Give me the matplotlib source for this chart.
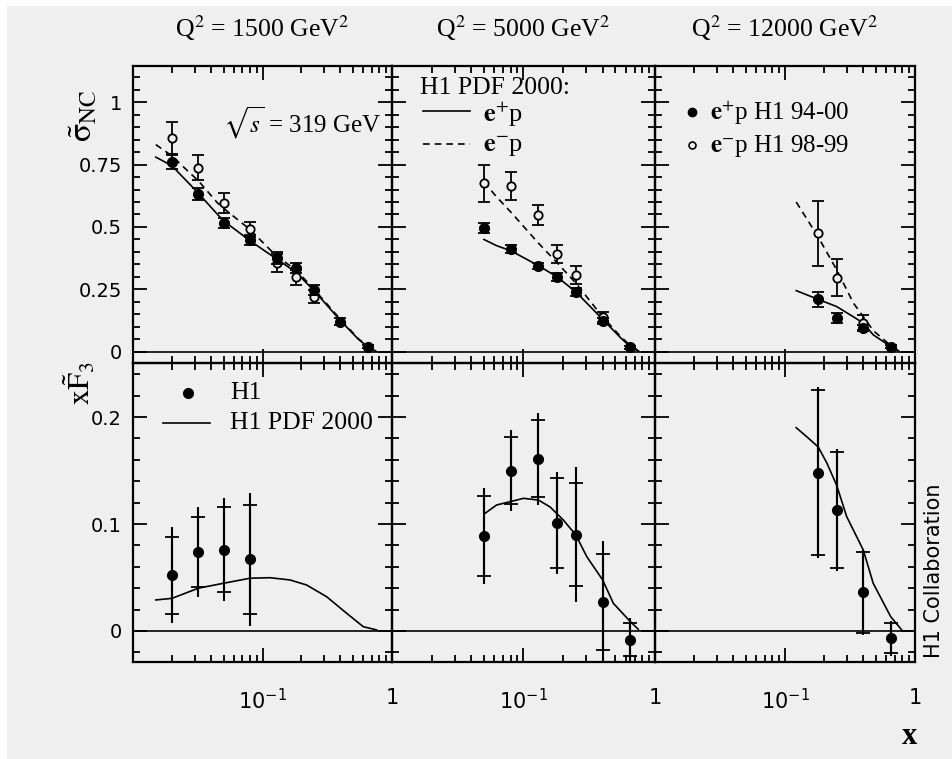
import matplotlib
matplotlib.use('Agg')
import matplotlib.pyplot as plt
from matplotlib.ticker import FixedLocator, FixedFormatter, LogLocator, MultipleLocator, NullFormatter
from matplotlib.patches import Rectangle

# ---- data ----
q2_values = ['1500', '5000', '12000']

# reduced NC cross section, e+p (filled)
ep_x = [[0.02, 0.032, 0.05, 0.08, 0.13, 0.18, 0.25, 0.40, 0.65],
        [0.05, 0.08, 0.13, 0.18, 0.25, 0.40, 0.65],
        [0.18, 0.25, 0.40, 0.65]]
ep_sig = [[0.761, 0.632, 0.517, 0.448, 0.375, 0.335, 0.248, 0.121, 0.021],
          [0.497, 0.411, 0.344, 0.299, 0.239, 0.124, 0.019],
          [0.211, 0.135, 0.095, 0.021]]
ep_err = [[0.03, 0.025, 0.02, 0.02, 0.025, 0.02, 0.02, 0.015, 0.006],
          [0.02, 0.015, 0.012, 0.015, 0.015, 0.012, 0.006],
          [0.03, 0.02, 0.012, 0.006]]

# reduced NC cross section, e-p (open)
em_x = [[0.02, 0.032, 0.05, 0.08, 0.13, 0.18, 0.25],
        [0.05, 0.08, 0.13, 0.18, 0.25, 0.40],
        [0.18, 0.25, 0.40]]
em_sig = [[0.855, 0.737, 0.595, 0.491, 0.355, 0.299, 0.221],
          [0.675, 0.665, 0.548, 0.391, 0.308, 0.141],
          [0.475, 0.297, 0.117]]
em_err = [[0.065, 0.05, 0.04, 0.03, 0.035, 0.03, 0.025],
          [0.075, 0.055, 0.04, 0.035, 0.035, 0.02],
          [0.13, 0.073, 0.03]]

# H1 PDF 2000 curves for the cross sections
fit_top_x = [[0.015, 0.02, 0.027, 0.032, 0.045, 0.05, 0.08, 0.13, 0.18, 0.25, 0.40, 0.55, 0.65, 0.75],
             [0.05, 0.0625, 0.08, 0.13, 0.18, 0.25, 0.40, 0.55, 0.65, 0.75],
             [0.122, 0.18, 0.25, 0.336, 0.40, 0.477, 0.65, 0.75]]
fit_ep = [[0.78, 0.745, 0.675, 0.635, 0.55, 0.525, 0.445, 0.37, 0.32, 0.245, 0.125, 0.05, 0.02, 0.003],
          [0.45, 0.425, 0.405, 0.345, 0.30, 0.24, 0.13, 0.055, 0.02, 0.003],
          [0.245, 0.21, 0.181, 0.14, 0.115, 0.068, 0.021, 0.003]]
fit_em = [[0.83, 0.785, 0.72, 0.685, 0.596, 0.575, 0.49, 0.38, 0.33, 0.25, 0.13, 0.052, 0.022, 0.004],
          [0.681, 0.62, 0.56, 0.435, 0.357, 0.275, 0.14, 0.06, 0.025, 0.004],
          [0.60, 0.46, 0.328, 0.195, 0.141, 0.085, 0.025, 0.004]]

# xF3 structure function
xf3_x = [[0.02, 0.032, 0.05, 0.08],
         [0.05, 0.08, 0.13, 0.18, 0.25, 0.40, 0.65],
         [0.18, 0.25, 0.40, 0.65]]
xf3 = [[0.052, 0.074, 0.076, 0.067],
       [0.089, 0.150, 0.161, 0.101, 0.090, 0.027, -0.008],
       [0.148, 0.113, 0.036, -0.007]]
xf3_stat = [[0.036, 0.033, 0.040, 0.051],
            [0.0375, 0.031, 0.036, 0.042, 0.048, 0.045, 0.0155],
            [0.077, 0.054, 0.038, 0.014]]
xf3_tot = [[0.045, 0.042, 0.048, 0.062],
           [0.045, 0.038, 0.043, 0.048, 0.063, 0.057, 0.02],
           [0.08, 0.057, 0.040, 0.016]]

fit_bot_x = [[0.015, 0.02, 0.032, 0.05, 0.08, 0.114, 0.163, 0.219, 0.313, 0.447, 0.60, 0.76],
             [0.051, 0.0625, 0.08, 0.10, 0.13, 0.159, 0.201, 0.25, 0.303, 0.40, 0.482, 0.65, 0.746],
             [0.122, 0.147, 0.18, 0.21, 0.25, 0.298, 0.40, 0.477, 0.65, 0.79]]
fit_xf3 = [[0.029, 0.0305, 0.040, 0.0446, 0.0493, 0.0498, 0.0477, 0.043, 0.032, 0.0165, 0.004, 0.001],
           [0.110, 0.1178, 0.121, 0.124, 0.1224, 0.116, 0.1037, 0.0897, 0.0694, 0.0477, 0.0259, 0.0087, 0.0016],
           [0.190, 0.1816, 0.172, 0.157, 0.136, 0.107, 0.0757, 0.0446, 0.0134, 0.001]]

# ---- layout ----
W, H = 953, 759
plt.rcParams['font.family'] = 'Liberation Serif'
plt.rcParams['mathtext.fontset'] = 'stix'

fig = plt.figure(figsize=(W / 100, H / 100), dpi=100)
fig.patch.set_facecolor('white')
fig.add_artist(Rectangle((7 / W, 0), 1 - 7 / W, 1 - 6 / H, transform=fig.transFigure,
                         facecolor='#efefef', edgecolor='none', zorder=-10))


def fx(x):
    return x / W


def fy(y):
    return 1 - y / H


col_edges = [133, 392, 655, 915]
row_edges = [66, 363, 662]

axes = [[None] * 3 for _ in range(2)]
for r in range(2):
    for c in range(3):
        l, rr = col_edges[c], col_edges[c + 1]
        t, b = row_edges[r], row_edges[r + 1]
        ax = fig.add_axes([fx(l), fy(b), (rr - l) / W, (b - t) / H])
        ax.set_facecolor('none')
        ax.set_xscale('log')
        ax.set_xlim(0.01, 1)
        ax.xaxis.set_major_locator(FixedLocator([0.01, 0.1, 1]))
        ax.xaxis.set_minor_locator(LogLocator(base=10, subs=range(2, 10)))
        ax.xaxis.set_minor_formatter(NullFormatter())
        if r == 1:
            ax.xaxis.set_major_formatter(FixedFormatter(['', r'$\mathdefault{10^{-1}}$', '1']))
        else:
            ax.xaxis.set_major_formatter(NullFormatter())
        if r == 0:
            ax.set_ylim(-0.045, 1.145)
            ax.yaxis.set_major_locator(FixedLocator([0, 0.25, 0.5, 0.75, 1]))
            ax.yaxis.set_minor_locator(MultipleLocator(0.05))
            labels = ['0', '0.25', '0.5', '0.75', '1']
        else:
            ax.set_ylim(-0.029, 0.2505)
            ax.yaxis.set_major_locator(FixedLocator([0, 0.1, 0.2]))
            ax.yaxis.set_minor_locator(MultipleLocator(0.02))
            labels = ['0', '0.1', '0.2']
        if c == 0:
            ax.yaxis.set_major_formatter(FixedFormatter(labels))
        else:
            ax.yaxis.set_major_formatter(NullFormatter())
        ax.tick_params(which='both', direction='in', top=True, right=True, width=1.3, colors='black')
        ax.tick_params(which='major', length=10)
        ax.tick_params(which='minor', length=5)
        ax.tick_params(axis='x', which='major', pad=19, labelsize=15)
        ax.tick_params(axis='y', which='major', pad=8, labelsize=14)
        for lab in ax.get_xticklabels() + ax.get_yticklabels():
            lab.set_fontfamily('DejaVu Sans')
        for sp in ax.spines.values():
            sp.set_linewidth(1.6)
        ax.axhline(0, color='black', lw=1.2, zorder=1)
        axes[r][c] = ax

# ---- top row: reduced cross sections ----
for c in range(3):
    ax = axes[0][c]
    ax.plot(fit_top_x[c], fit_ep[c], color='black', lw=1.2)
    ax.plot(fit_top_x[c], fit_em[c], color='black', lw=1.2, linestyle=(0, (4, 3)))
    ax.errorbar(em_x[c], em_sig[c], yerr=em_err[c], fmt='o', ms=6, mfc='#efefef', mec='black',
                mew=1.3, ecolor='black', elinewidth=1.3, capsize=4, capthick=1.3, zorder=3)
    ax.errorbar(ep_x[c], ep_sig[c], yerr=ep_err[c], fmt='o', ms=7, color='black',
                elinewidth=1.3, capsize=4, capthick=1.3, zorder=4)

# ---- bottom row: xF3 ----
for c in range(3):
    ax = axes[1][c]
    ax.plot(fit_bot_x[c], fit_xf3[c], color='black', lw=1.2)
    ax.errorbar(xf3_x[c], xf3[c], yerr=xf3_tot[c], fmt='none', ecolor='black', elinewidth=1.5)
    ax.errorbar(xf3_x[c], xf3[c], yerr=xf3_stat[c], fmt='o', ms=7, color='black',
                elinewidth=1.5, capsize=5, capthick=1.3, zorder=4)

# ---- titles and labels ----
for c in range(3):
    xc = (col_edges[c] + col_edges[c + 1]) / 2
    fig.text(fx(xc), fy(28), r'Q$^2$ = %s GeV$^2$' % q2_values[c], ha='center', va='center', fontsize=18.5)

fig.text(fx(84), fy(116), r'$\tilde{\mathrm{\sigma}}_{\mathrm{NC}}$', rotation=90, ha='center', va='center',
         fontsize=24)
fig.text(fx(80), fy(383), r'$\mathrm{x}\tilde{\mathrm{F}}_{3}$', rotation=90, ha='center', va='center',
         fontsize=22)
fig.text(fx(910), fy(736), 'x', ha='center', va='center', fontsize=22, fontweight='bold')
fig.text(fx(934), fy(571), 'H1 Collaboration', rotation=90, ha='center', va='center',
         fontsize=15, family='DejaVu Sans')

# sqrt(s) note
fig.text(fx(223), fy(123), r'$\sqrt{s}$ = 319 GeV', ha='left', va='center', fontsize=18)

# legend: H1 PDF 2000 curves (top middle)
fig.text(fx(420), fy(88), 'H1 PDF 2000:', ha='left', va='center', fontsize=18.5)
fig.add_artist(plt.Line2D([fx(423), fx(470)], [fy(111), fy(111)], color='black', lw=1.2))
fig.add_artist(plt.Line2D([fx(423), fx(470)], [fy(144), fy(144)], color='black', lw=1.2,
                          linestyle=(0, (4, 3))))
fig.text(fx(483), fy(114), r'$\mathbf{e}^{+}$p', ha='left', va='center', fontsize=19)
fig.text(fx(483), fy(147), r'$\mathbf{e}^{-}$p', ha='left', va='center', fontsize=19)

# legend: data sets (top right)
fig.add_artist(plt.Line2D([fx(692)], [fy(112)], marker='o', ms=6, color='black'))
fig.add_artist(plt.Line2D([fx(692)], [fy(145)], marker='o', ms=5, mfc='#efefef', mec='black', mew=1.2))
fig.text(fx(710), fy(113), r'$\mathbf{e}^{+}$p H1 94-00', ha='left', va='center', fontsize=18)
fig.text(fx(710), fy(146), r'$\mathbf{e}^{-}$p H1 98-99', ha='left', va='center', fontsize=18)

# legend: bottom left
fig.add_artist(plt.Line2D([fx(188)], [fy(393)], marker='o', ms=7, color='black'))
fig.add_artist(plt.Line2D([fx(163), fx(210)], [fy(423), fy(423)], color='black', lw=1.2))
fig.text(fx(230), fy(393), 'H1', ha='left', va='center', fontsize=18.5)
fig.text(fx(230), fy(423), 'H1 PDF 2000', ha='left', va='center', fontsize=18.5)

fig.savefig('out.png', dpi=100, facecolor=fig.get_facecolor())
